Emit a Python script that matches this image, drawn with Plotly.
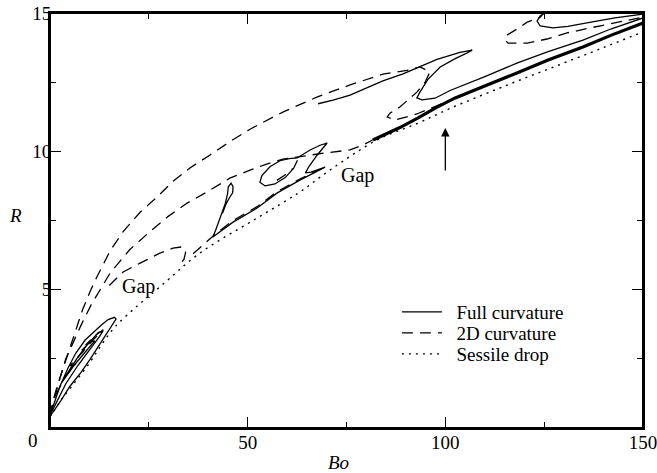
import plotly.graph_objects as go

FONT = "Liberation Serif"

# ---- Sessile drop (dotted) ----
sessile_bo = [0, 1, 3, 6, 10, 13, 16.4, 22, 27.8, 37.9, 52.4, 63.2, 70.8, 82.7, 92.8, 101.2, 113.8, 126.5, 140, 150]
sessile_r = [0.4, 0.62, 1.05, 1.6, 2.35, 3.0, 3.65, 4.4, 5.1, 6.32, 7.59, 8.53, 9.32, 10.41, 11.0, 11.55, 12.29, 13.0, 13.75, 14.32]

# ---- Full curvature (solid), segments separated by None ----
full_bo = [
    # loop from origin
    0, 1, 2.8, 5, 7.8, 10, 12.1, 14, 15.4, 16.7, 16.3, 14.7, 13, 11.4, 8.9, 6.5, 4.5, 2.5, 1, 0, None,
    # inner nested loops
    0.5, 2, 4, 7, 10, 12.5, 13.4, 12.2, 9.5, 7, 4.5, 3, 6, 9, 11.3, 10.2, 8, None,
    # teardrop, cusp, lower branch, Z-lobe, ellipse
    43.6, 44.6, 45.5, 46.2, 46.3, 45.8, 45.1, 44.9, 44.3, 43.0, 41.9, 41.2, 43.5, 46.3, 52.4, 57.4, 63.2, 69.6,
    66, 64.6, 65.5, 67.5, 70.1, 68.3, 65.8, 62.5, 60.5, 58.2, 55.7, 53.6, 53.1, 54.4, 56.9, 59.5, 61.6, 62.6, None,
    # upper lobe and S-turn
    67.8, 71.6, 75.9, 80, 84.2, 89.3, 92.8, 97.9, 103.7, 106.8, 105, 102.5, 98.7, 95.6, 93.6, 92.8, 94.1, 97.4,
    101.2, 110, 118.1, 126, 134.8, 142, 150, None,
    # top-right curl
    125.7, 124, 123.2, 124, 127.2, 131, 135.8, 142.9, 150,
]
full_r = [
    0.42, 0.62, 1.0, 1.5, 2.0, 2.45, 2.93, 3.35, 3.65, 3.94, 4.0, 3.92, 3.72, 3.52, 3.18, 2.7, 2.15, 1.5, 0.9, 0.45, None,
    0.6, 1.05, 1.6, 2.25, 2.8, 3.3, 3.5, 3.45, 3.02, 2.55, 2.0, 1.65, 2.25, 2.75, 3.15, 3.12, 2.8, None,
    7.75, 8.12, 8.35, 8.5, 8.72, 8.85, 8.72, 8.45, 8.1, 7.55, 7.15, 6.9, 7.14, 7.44, 7.95, 8.49, 8.96, 9.43,
    9.25, 9.22, 9.45, 9.85, 10.3, 10.22, 10.05, 9.76, 9.74, 9.66, 9.45, 9.12, 8.88, 8.75, 8.82, 9.05, 9.38, 9.68, None,
    11.72, 11.85, 12.03, 12.3, 12.55, 12.8, 13.0, 13.32, 13.58, 13.66, 13.52, 13.35, 13.05, 12.6, 12.15, 11.93, 11.86, 11.92,
    12.2, 12.7, 13.19, 13.6, 14.02, 14.43, 14.82, None,
    15.05, 14.89, 14.71, 14.53, 14.46, 14.52, 14.64, 14.82, 14.96,
]

# ---- Thick band of overlapping full-curvature solutions ----
band_bo = [81.7, 85, 88.5, 93, 97.9, 102.5, 110, 118.1, 126, 134.8, 142, 150]
band_r = [10.41, 10.62, 10.86, 11.2, 11.6, 11.93, 12.35, 12.83, 13.3, 13.77, 14.2, 14.64]

# ---- 2D curvature (dashed), segments separated by None ----
flat_bo = [
    # outer arc with turn-back
    0, 0.8, 1.8, 3.2, 4.6, 6.3, 8.3, 10.2, 12, 15.2, 18.5, 22.8, 27.1, 30.9, 35.4, 40.5, 45.5, 50.6, 58.9, 67.5,
    75.9, 84.2, 90.3, 93.6, 96.1, 94.9, 92.8, 88.5, 86, 85.3, 87.3, 92.8, 98.7, 103, None,
    # middle arc
    0, 1, 2.5, 4, 5.8, 7.8, 10.4, 12.5, 15.2, 20.2, 24.5, 29.9, 34.7, 39.7, 45.5, 50.6, 55, 58.9, 65, 70,
    75.9, 79.2, 81.7, None,
    # lower arc with curl
    15, 18.5, 22.8, 27.8, 31.1, 33.6, 34.3, 33.9, 32.6, None,
    36.2, 39.7, 41.5, 46.3, 52.4, 57.4, 63.2, 69, None,
    # piece inside ellipse
    57.4, 60, 61.5, None,
    # near-origin pieces
    1.5, 4, 6.5, 5, 8, 11, 13.5, 11.5, 9, None,
    # top-right loop
    125.5, 124, 120.7, 118.9, 115.6, 115.1, 115.9, 120.7, 125.7, 130.8, 136.6, 145, 150,
]
flat_r = [
    0.45, 1.0, 1.5, 2.1, 2.75, 3.5, 4.3, 4.95, 5.5, 6.4, 7.1, 7.8, 8.35, 8.89, 9.4, 9.87, 10.35, 10.8, 11.42, 11.96,
    12.4, 12.79, 12.93, 13.05, 12.87, 12.5, 12.14, 11.6, 11.38, 11.24, 11.13, 11.35, 11.7, 11.95, None,
    0.45, 1.0, 1.8, 2.5, 3.1, 3.7, 4.45, 4.95, 5.6, 6.45, 7.0, 7.65, 8.13, 8.53, 9.03, 9.32, 9.55, 9.72, 9.85, 9.95,
    10.05, 10.23, 10.42, None,
    5.15, 5.64, 5.96, 6.32, 6.5, 6.55, 6.35, 6.1, 5.85, None,
    6.3, 6.72, 6.97, 7.5, 8.0, 8.54, 9.0, 9.4, None,
    8.95, 9.2, 9.38, None,
    1.2, 1.9, 2.3, 2.25, 2.7, 3.2, 3.55, 3.35, 3.0, None,
    15.1, 14.85, 14.67, 14.49, 14.2, 14.02, 13.91, 13.91, 14.06, 14.28, 14.46, 14.71, 14.85,
]

# ---- Annotations ----
gap_bo = [22.4, 77.7]
gap_r = [5.1, 9.11]
arrow_bo = 100
arrow_tip_r = 10.84
arrow_tail_r = 9.25

NB = "\u00a0\u00a0"

fig = go.Figure()
fig.add_trace(go.Scatter(x=full_bo, y=full_r, mode="lines", name=NB + "Full curvature",
                         line=dict(color="black", width=1.3), connectgaps=False, legend="legend"))
fig.add_trace(go.Scatter(x=band_bo, y=band_r, mode="lines", showlegend=False,
                         line=dict(color="black", width=3.2)))
fig.add_trace(go.Scatter(x=flat_bo, y=flat_r, mode="lines", name=NB + "2D curvature",
                         line=dict(color="black", width=1.3, dash="11px,7px"), connectgaps=False,
                         legend="legend2"))
fig.add_trace(go.Scatter(x=sessile_bo, y=sessile_r, mode="lines", name=NB + "Sessile drop",
                         line=dict(color="black", width=1.4, dash="2px,5px", shape="spline"),
                         legend="legend3"))

annotations = []
for gx, gy in zip(gap_bo, gap_r):
    annotations.append(dict(x=gx, y=gy, xref="x", yref="y", text="Gap", showarrow=False,
                            xanchor="center", yanchor="middle",
                            font=dict(family=FONT, size=20, color="black")))
annotations.append(dict(x=arrow_bo, y=arrow_tip_r, ax=arrow_bo, ay=arrow_tail_r, xref="x", yref="y",
                        axref="x", ayref="y", text="", showarrow=True, arrowhead=2, arrowsize=1.3,
                        arrowwidth=1.3, arrowcolor="black"))
annotations.append(dict(x=0.4857, y=-0.082, xref="paper", yref="paper", text="<i>Bo</i>", showarrow=False,
                        xanchor="center", yanchor="middle", font=dict(family=FONT, size=19, color="black")))
annotations.append(dict(x=-0.059, y=0.513, xref="paper", yref="paper", text="<i>R</i>", showarrow=False,
                        xanchor="center", yanchor="middle", font=dict(family=FONT, size=19, color="black")))
annotations.append(dict(x=-0.0295, y=-0.031, xref="paper", yref="paper", text="0", showarrow=False,
                        xanchor="center", yanchor="middle", font=dict(family=FONT, size=19, color="black")))

axis_common = dict(showline=True, linewidth=2, linecolor="black", mirror="allticks", ticks="inside",
                   ticklen=11, tickwidth=1.3, tickcolor="black", showgrid=False, zeroline=False,
                   automargin=False, ticklabeloverflow="allow",
                   tickfont=dict(family=FONT, size=19, color="black"))

leg_common = dict(bgcolor="rgba(0,0,0,0)", borderwidth=0, xanchor="left", yanchor="middle",
                  font=dict(family=FONT, size=19, color="black"), itemwidth=40)

fig.update_layout(
    width=657, height=473,
    margin=dict(l=50, r=14, t=13, b=45),
    paper_bgcolor="white", plot_bgcolor="white",
    xaxis=dict(range=[0, 150], tickvals=[0, 50, 100, 150], ticktext=["", "50", "100", "150"],
               ticklabelstandoff=-4,
               minor=dict(ticks="inside", ticklen=6, tickwidth=1.3, tickcolor="black", tickvals=[25, 75, 125]),
               **axis_common),
    yaxis=dict(range=[0, 15], tickvals=[0, 5, 10, 15], ticktext=["", "5", "10", "15"],
               ticklabelstandoff=-7,
               minor=dict(ticks="inside", ticklen=6, tickwidth=1.3, tickcolor="black", tickvals=[2.5, 7.5, 12.5]),
               **axis_common),
    legend=dict(x=0.585, y=0.2795, **leg_common),
    legend2=dict(x=0.585, y=0.2289, **leg_common),
    legend3=dict(x=0.585, y=0.1783, **leg_common),
    shapes=[dict(type="rect", xref="paper", yref="paper", x0=0, x1=1, y0=0, y1=1,
                 line=dict(color="black", width=2), layer="above")],
    annotations=annotations,
    showlegend=True,
)

# remove the browser's default page margin so the figure sits at the window origin
fig.write_html("out.html", config={"displayModeBar": False},
               post_script="document.body.style.margin='0px';")
